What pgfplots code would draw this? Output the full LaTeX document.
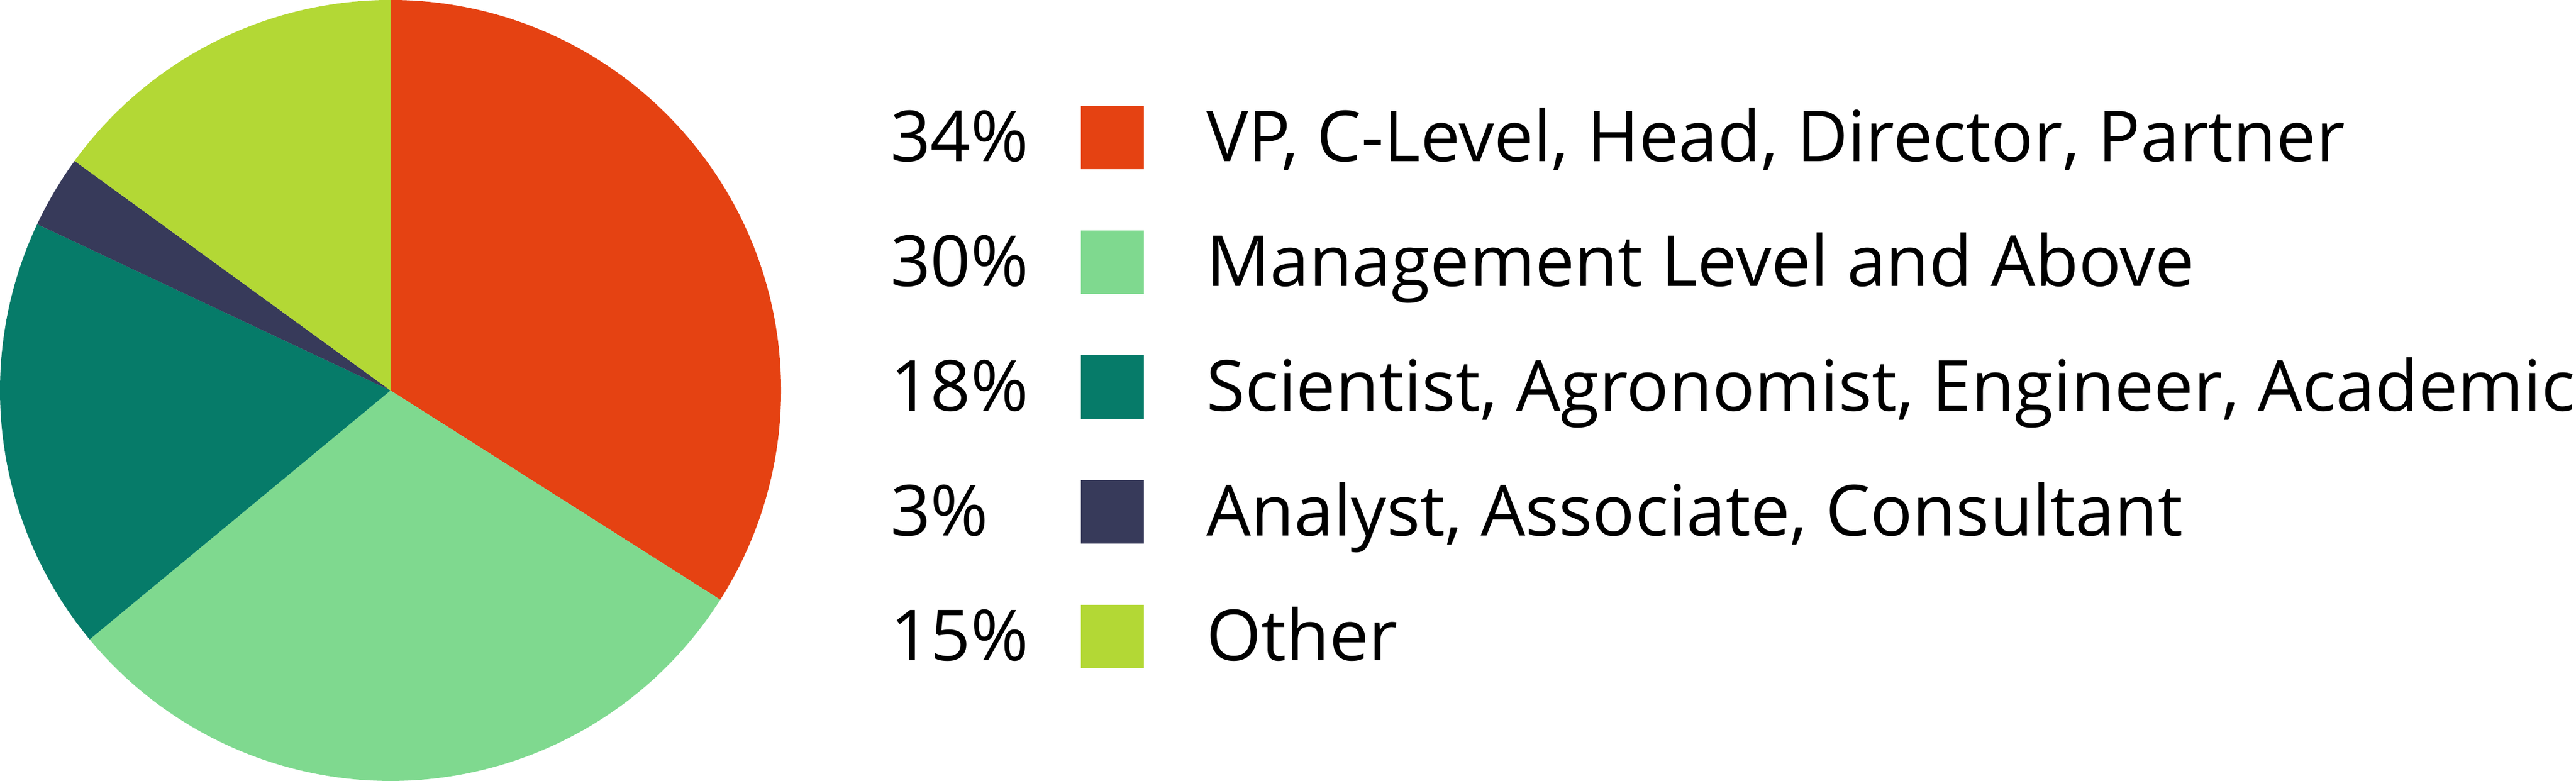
\documentclass[border=0pt]{standalone}
\usepackage{fontspec}
\setmainfont{Open Sans}
\usepackage{pgfplots}
\pgfplotsset{compat=1.18}

\definecolor{cVP}{HTML}{E54212}
\definecolor{cMgmt}{HTML}{7FD98F}
\definecolor{cSci}{HTML}{067B69}
\definecolor{cAna}{HTML}{373A5A}
\definecolor{cOth}{HTML}{B3D835}

\tikzset{lab/.style={anchor=base west, inner sep=0pt, outer sep=0pt,
    font=\fontsize{12.2pt}{14pt}\selectfont}}

\begin{document}
\begin{tikzpicture}
\begin{axis}[
    hide axis, scale only axis, clip=false,
    width=445.9pt, height=135.2pt,
    xmin=0, xmax=4459, ymin=0, ymax=1352,
]
% pie: starts at 12 o'clock, goes clockwise
\xdef\cum{90}
\foreach \p/\c in {34/cVP, 30/cMgmt, 18/cSci, 3/cAna, 15/cOth} {
    \pgfmathsetmacro\a{\cum-3.6*\p}
    \edef\temp{\noexpand\fill[\c] (axis cs:676,676) -- +(\cum:67.6pt)
        arc[start angle=\cum, end angle=\a, radius=67.6pt] -- cycle;}
    \temp
    \xdef\cum{\a}
}
% legend rows
\fill[cVP]   (axis cs:1871,1059) rectangle (axis cs:1980,1169);
\fill[cMgmt] (axis cs:1871,843)  rectangle (axis cs:1980,953);
\fill[cSci]  (axis cs:1871,627)  rectangle (axis cs:1980,737);
\fill[cAna]  (axis cs:1871,411)  rectangle (axis cs:1980,521);
\fill[cOth]  (axis cs:1871,195)  rectangle (axis cs:1980,305);

\node[lab] at (axis cs:1541,1072) {34\%};
\node[lab] at (axis cs:1541,856)  {30\%};
\node[lab] at (axis cs:1541,640)  {18\%};
\node[lab] at (axis cs:1541,424)  {3\%};
\node[lab] at (axis cs:1541,208)  {15\%};

\node[lab] at (axis cs:2088,1072) {VP, C-Level, Head, Director, Partner};
\node[lab] at (axis cs:2088,856)  {Management Level and Above};
\node[lab] at (axis cs:2088,640)  {Scientist, Agronomist, Engineer, Academic};
\node[lab] at (axis cs:2088,424)  {Analyst, Associate, Consultant};
\node[lab] at (axis cs:2088,208)  {Other};

\coordinate (bl) at (axis cs:0,0);
\coordinate (tr) at (axis cs:4459,1352);
\end{axis}
\pgfresetboundingbox
\path (bl) rectangle (tr);
\end{tikzpicture}
\end{document}
